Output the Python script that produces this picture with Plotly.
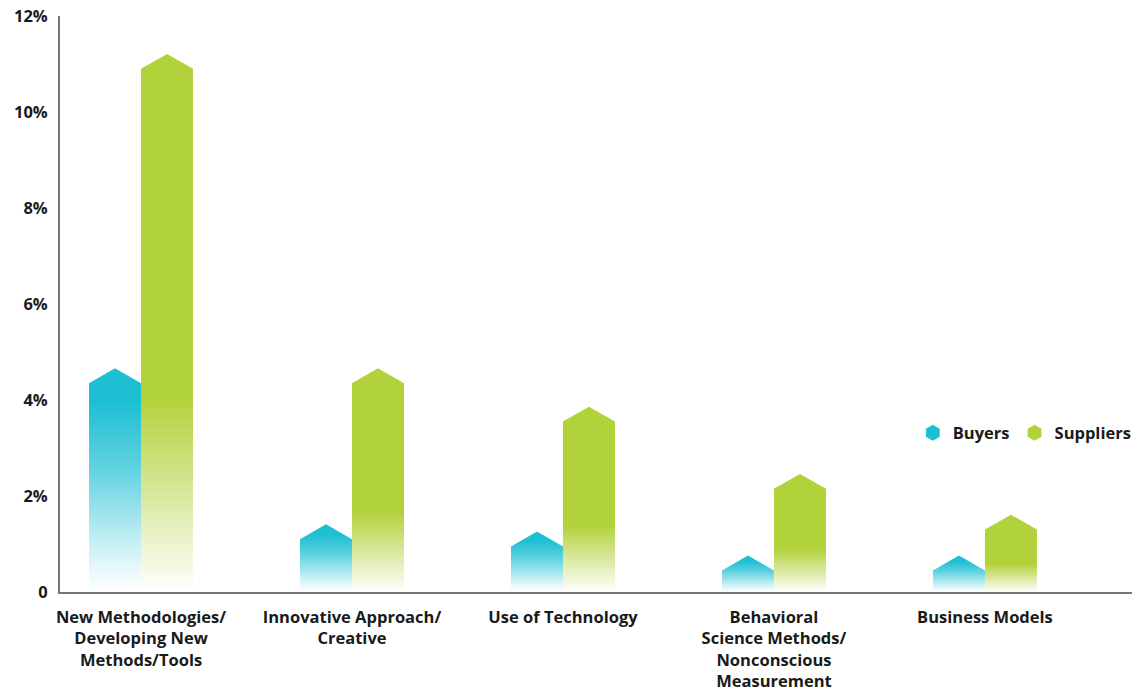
import plotly.graph_objects as go

categories = [
    "New Methodologies/<br>Developing New<br>Methods/Tools",
    "Innovative Approach/<br>Creative",
    "Use of Technology",
    "Behavioral<br>Science Methods/<br>Nonconscious<br>Measurement",
    "Business Models",
]
buyers = [4.35, 1.1, 0.95, 0.45, 0.45]
suppliers = [10.9, 4.35, 3.55, 2.15, 1.3]
y_ticks = [0, 2, 4, 6, 8, 10, 12]
y_tick_labels = ["0", "2%", "4%", "6%", "8%", "10%", "12%"]
series_names = ["Buyers", "Suppliers"]

CYAN = (29, 191, 211)
GREEN = (178, 210, 60)
BAR_W = 0.2465      # width of one bar in category units
PEAK = 0.31         # height of the pointed cap in % units
FONT = "Open Sans"
TXT = "#1a1a1a"


def rgba(c, a):
    return f"rgba({c[0]},{c[1]},{c[2]},{a})"


buyer_scale = [[0, rgba(CYAN, 0.0)], [0.12, rgba(CYAN, 0.12)], [0.55, rgba(CYAN, 0.7)],
               [0.85, rgba(CYAN, 1)], [1, rgba(CYAN, 1)]]
supplier_scale = [[0, rgba(GREEN, 0.0)], [0.36, rgba(GREEN, 1)], [1, rgba(GREEN, 1)]]

fig = go.Figure()


def add_bar(i, v, offset, color, scale, name):
    x0 = i + offset - BAR_W / 2
    x1 = i + offset + BAR_W / 2
    xc = i + offset
    fig.add_trace(go.Scatter(
        x=[x0, x0, xc, x1, x1, x0],
        y=[0, v, v + PEAK, v, 0, 0],
        mode="lines",
        line=dict(width=0, color=rgba(color, 1)),
        fill="toself",
        fillgradient=dict(type="vertical", colorscale=scale),
        showlegend=False,
        hoveron="fills",
        name=name,
        text=f"{name}: {v}%",
        hoverinfo="text",
    ))


for i, (b, s) in enumerate(zip(buyers, suppliers)):
    add_bar(i, b, -BAR_W / 2, CYAN, buyer_scale, series_names[0])
    add_bar(i, s, BAR_W / 2, GREEN, supplier_scale, series_names[1])

for name, c in zip(series_names, [CYAN, GREEN]):
    fig.add_trace(go.Scatter(
        x=[None], y=[None], mode="markers", name=name,
        marker=dict(symbol="hexagon", size=20, color=rgba(c, 1)),
        showlegend=True,
    ))

fig.update_layout(
    width=1142, height=691, autosize=False,
    margin=dict(l=60, r=10, t=16, b=99, autoexpand=False),
    paper_bgcolor="white", plot_bgcolor="white",
    font=dict(family=FONT, size=16.5, color=TXT, weight="bold"),
    showlegend=True,
    legend=dict(orientation="h", x=0.7955, y=0.276, xanchor="left", yanchor="middle",
                font=dict(family=FONT, size=16.5, color=TXT, weight="bold"),
                bgcolor="rgba(0,0,0,0)", itemclick=False),
    xaxis=dict(range=[-0.384, 4.697], tickvals=list(range(len(categories))),
               ticktext=categories, showgrid=False, zeroline=False,
               showline=True, linecolor="#777777", linewidth=2,
               ticks="", ticklabelstandoff=9, automargin=False,
               tickfont=dict(family=FONT, size=16.5, color=TXT, weight="bold")),
    yaxis=dict(range=[0, 12], tickvals=y_ticks, ticktext=y_tick_labels,
               showgrid=False, zeroline=False, showline=True,
               linecolor="#777777", linewidth=2, ticks="", ticklabelstandoff=7,
               automargin=False,
               tickfont=dict(family=FONT, size=16.5, color=TXT, weight="bold")),
)

fig.write_html("out.html", config={"displayModeBar": False, "responsive": False},
               post_script="document.body.style.margin='0';")
